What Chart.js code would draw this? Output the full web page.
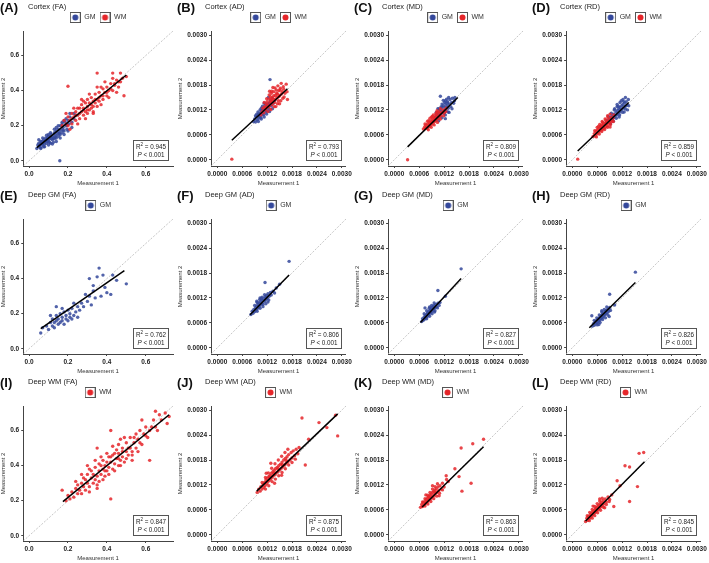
<!DOCTYPE html>
<html>
<head>
<meta charset="utf-8">
<title>Test-retest DTI scatter plots</title>
<script src="https://cdn.jsdelivr.net/npm/chart.js@4.4.1/dist/chart.umd.min.js"></script>
<style>
  html, body { margin: 0; padding: 0; background: #fff; }
  #grid { position: relative; width: 709px; height: 563px; font-family: "Liberation Sans", Arial, sans-serif; }
  .panel { position: absolute; width: 177px; height: 188px; }
  .panel canvas { position: absolute; left: 0; top: 0; }
  .tag { position: absolute; left: 0; top: 0; font-size: 13px; font-weight: bold; color: #111; line-height: 15px; }
  .sub { position: absolute; left: 28px; top: 2px; font-size: 7.5px; color: #222; white-space: nowrap; }
</style>
</head>
<body>
<div id="grid"></div>
<script>
'use strict';

/* ── Panel labels ─────────────────────────────────────────────────────── */
const PANEL_TAGS = ['(A)', '(B)', '(C)', '(D)', '(E)', '(F)', '(G)', '(H)', '(I)', '(J)', '(K)', '(L)'];
const PANEL_TITLES = ['Cortex (FA)', 'Cortex (AD)', 'Cortex (MD)', 'Cortex (RD)',
    'Deep GM (FA)', 'Deep GM (AD)', 'Deep GM (MD)', 'Deep GM (RD)',
    'Deep WM (FA)', 'Deep WM (AD)', 'Deep WM (MD)', 'Deep WM (RD)'];
const R2_VALUES = ['0.945', '0.793', '0.809', '0.859', '0.762', '0.806', '0.827', '0.826', '0.847', '0.875', '0.863', '0.845'];

/* ── Axes (diffusivities kept in units of 1e-4) ───────────────────────── */
const FA_TICKS = [0, 0.2, 0.4, 0.6];
const FA_LIMITS = [-0.03, 0.74];
const DIFF_TICKS = [0, 6, 12, 18, 24, 30];
const DIFF_LIMITS = [-1.5, 31];

/* ── Measurement 1 / Measurement 2 pairs ──────────────────────────────── */
const cortexFA_GM = [[0.04,0.07],[0.045,0.09],[0.05,0.08],[0.05,0.1],[0.055,0.085],[0.06,0.095],[0.06,0.075],[0.065,0.11],[0.07,0.09],[0.07,0.1],[0.075,0.12],[0.08,0.095],[0.08,0.11],[0.085,0.13],[0.09,0.1],[0.09,0.12],[0.095,0.11],[0.1,0.14],[0.1,0.115],[0.105,0.125],[0.11,0.1],[0.11,0.135],[0.115,0.15],[0.12,0.12],[0.12,0.14],[0.125,0.13],[0.13,0.16],[0.13,0.125],[0.135,0.145],[0.14,0.13],[0.14,0.17],[0.145,0.155],[0.15,0.14],[0.15,0.18],[0.155,0.165],[0.16,0.15],[0.16,0.2],[0.165,0.175],[0.17,0.16],[0.17,0.21],[0.175,0.19],[0.18,0.17],[0.185,0.22],[0.19,0.2],[0.195,0.18],[0.2,0.23],[0.205,0.21],[0.21,0.25],[0.22,0.22],[0.23,0.24],[0.24,0.26],[0.06,0.11],[0.075,0.08],[0.095,0.13],[0.125,0.105],[0.158,0.0],[0.14,0.19],[0.18,0.23],
    [0.05,0.12],[0.07,0.13],[0.09,0.145],[0.11,0.16],[0.13,0.18],[0.15,0.2],[0.17,0.22],[0.19,0.24],[0.21,0.27],[0.06,0.07],[0.08,0.08],[0.1,0.09],[0.12,0.095],[0.14,0.11],[0.16,0.13],[0.18,0.15],[0.2,0.17],[0.22,0.19],[0.23,0.27],[0.1,0.15],[0.065,0.1],[0.085,0.115],[0.105,0.105],[0.115,0.125],[0.135,0.135],[0.155,0.155],[0.175,0.175],[0.195,0.205]];
const cortexFA_WM = [[0.17,0.2],[0.18,0.23],[0.19,0.21],[0.2,0.25],[0.2,0.2],[0.21,0.23],[0.22,0.27],[0.22,0.21],[0.23,0.25],[0.24,0.28],[0.24,0.23],[0.25,0.26],[0.26,0.3],[0.26,0.24],[0.27,0.28],[0.27,0.32],[0.28,0.26],[0.28,0.3],[0.29,0.33],[0.29,0.28],[0.3,0.31],[0.3,0.35],[0.31,0.29],[0.31,0.33],[0.32,0.36],[0.32,0.3],[0.33,0.34],[0.33,0.31],[0.34,0.38],[0.34,0.33],[0.35,0.35],[0.35,0.31],[0.36,0.39],[0.36,0.34],[0.37,0.37],[0.38,0.41],[0.38,0.35],[0.39,0.39],[0.4,0.42],[0.4,0.37],[0.41,0.4],[0.42,0.44],[0.43,0.4],[0.44,0.43],[0.45,0.46],[0.46,0.42],[0.47,0.45],[0.48,0.47],[0.5,0.48],[0.2,0.425],[0.35,0.5],[0.488,0.371],[0.3,0.27],[0.25,0.3],[0.37,0.42],[0.43,0.47],[0.28,0.34],[0.33,0.27],
    [0.19,0.27],[0.23,0.3],[0.27,0.35],[0.31,0.38],[0.35,0.42],[0.39,0.45],[0.43,0.5],[0.21,0.18],[0.25,0.21],[0.29,0.24],[0.33,0.28],[0.37,0.32],[0.41,0.36],[0.45,0.39],[0.47,0.5],[0.22,0.24],[0.26,0.27],[0.3,0.29],[0.34,0.35],[0.38,0.37],[0.42,0.41],[0.46,0.45],[0.24,0.26],[0.28,0.29],[0.32,0.32],[0.36,0.36],[0.4,0.39],[0.44,0.44]];
const cortexFA_fit = [[0.04,0.075],[0.5,0.489]];

const cortexAD_GM = [[8.7,9.2],[9,9.8],[9.2,9.1],[9.4,10.3],[9.6,9.6],[9.8,10.6],[10,10],[10,11],[10.2,10.4],[10.4,11.3],[10.5,10.1],[10.7,11.8],[10.8,10.8],[11,11.5],[11,12.3],[11.2,10.9],[11.4,12],[11.5,12.8],[11.7,11.5],[11.8,12.5],[12,13.2],[12,11.8],[12.2,12.8],[12.4,13.6],[12.5,12.2],[12.7,19.3],[12.8,14.2],[13,13],[13.2,14.8],[13.5,13.6],[9.5,11],[10.6,12.4],[11.6,13.5],[12.3,15],[13.8,14.2],
    [9.2,10.6],[9.8,11.5],[10.3,12],[10.9,12.9],[11.3,13.6],[9.9,9.2],[10.6,9.8],[11.3,10.3],[11.9,11],[12.6,11.6],[13.3,12.3],[10.1,10.7],[10.9,11.9],[11.8,12.8],[12.6,13.5]];
const cortexAD_WM = [[10.5,10.8],[10.8,11.6],[11,12.4],[11.2,11.3],[11.4,12.8],[11.6,12],[11.8,13.4],[12,12.5],[12,14],[12.2,13.2],[12.4,14.6],[12.5,12.8],[12.7,13.8],[12.8,15.2],[13,14.2],[13,16],[13.2,13.3],[13.3,15],[13.5,14.5],[13.6,16.4],[13.8,13.8],[14,15.5],[14,14.6],[14.2,16.8],[14.4,15],[14.5,15.8],[14.7,14.2],[14.8,16.6],[15,15.4],[15.2,17.2],[15.4,15.8],[15.6,16.4],[15.8,14.8],[16,17],[16.3,16],[16.6,18.2],[16.9,14.5],[3.5,0.15],[13.4,17.4],[12.6,16.5],[15,13.5],[14.1,12.8],
    [11.3,13.8],[11.9,14.7],[12.5,15.6],[13.1,16.5],[13.9,17.3],[14.6,17.8],[15.4,18.4],[12.2,11.6],[12.9,12.1],[13.7,12.8],[14.5,13.5],[15.3,14.2],[16.1,15.1],[16.8,16.4],[12.9,14.6],[13.6,15.4],[14.3,16],[15.1,16.8],[15.9,17.6],[11.7,12.6],[13.2,13.9],[14.8,15.2]];
const cortexAD_fit = [[3.5,4.7],[16.9,17.1]];

const cortexMD_GM = [[9.6,9.4],[9.8,10.2],[10,9.6],[10.2,10.8],[10.4,10],[10.6,11.2],[10.8,10.4],[11,11.6],[11,10.8],[11.2,12],[11.4,11.2],[11.5,12.6],[11.7,11.5],[11.8,13],[12,12],[12,11.2],[12.2,12.7],[12.4,13.5],[12.5,11.8],[12.7,13],[12.8,14],[13,12.4],[13.2,13.4],[13.4,14.5],[13.6,12.8],[13.8,13.8],[14,14.8],[14.3,13.6],[14.6,15],[11.1,15.3],[12.6,14.6],[10.5,12.3],[13.2,11.4],[11.8,14.3],[12.3,9.9],
    [10.1,11.4],[10.8,12.3],[11.5,13.4],[12.3,14.2],[13.1,15],[10.7,9.4],[11.5,10.1],[12.3,10.8],[13,11.5],[13.9,12.3],[14.5,14.2],[11.3,12.8],[12.1,13.8],[12.9,13.7]];
const cortexMD_WM = [[7,7.4],[7.3,7.9],[7.5,7.5],[7.6,8.3],[7.8,7.8],[8,8.6],[8,7.6],[8.2,8.2],[8.4,9],[8.5,8],[8.6,8.6],[8.8,9.3],[8.9,8.4],[9,9],[9.2,9.7],[9.3,8.8],[9.4,9.4],[9.6,10.1],[9.7,9.2],[9.8,9.8],[10,10.5],[10.1,9.5],[10.3,10.2],[10.5,10.8],[10.6,9.9],[10.8,10.5],[11,11.3],[11.2,10.6],[11.5,11.4],[11.8,12],[12.1,11.3],[12.5,12.4],[9,10.3],[8.3,9.4],[10.2,11.4],[3.2,0],
    [7.4,8.6],[8,9.3],[8.6,10],[9.4,10.8],[10.3,11.8],[11.1,12.3],[8.2,7.2],[8.9,7.8],[9.6,8.4],[10.4,9],[11.1,9.8],[11.9,10.6],[12.4,11.6],[9.2,10.4],[10,11.1],[10.7,11.6]];
const cortexMD_fit = [[3.2,3.1],[15.3,15.0]];

const cortexRD_GM = [[8.2,8.9],[8.5,9.5],[8.8,9],[9,10],[9.3,9.5],[9.5,10.5],[9.7,9.8],[10,11],[10,10.2],[10.3,10.6],[10.5,11.5],[10.7,10.8],[10.9,11.9],[11,11.2],[11.2,12.3],[11.4,11.5],[11.5,12.6],[11.7,11.9],[11.9,13],[12,12.2],[12.2,13.3],[12.4,12.5],[12.6,13.7],[12.8,12.9],[13,14],[13.2,13.2],[13.5,14.5],[12.8,15],[11.8,14.2],[10.8,12.8],[12.5,11.5],[11.3,10.3],[13.3,12],[10.2,12.3],
    [8.7,10.4],[9.4,11.2],[10.1,12],[10.8,13.3],[11.5,13.8],[12.2,14.5],[9.2,8.7],[9.9,9.3],[10.6,10],[11.4,10.8],[12.1,11.4],[12.8,12.2],[13.6,13],[11.1,12.9],[12.4,14]];
const cortexRD_WM = [[5,5.6],[5.3,6.3],[5.5,5.8],[5.7,6.8],[5.9,6.2],[6,7.2],[6.2,6.6],[6.4,7.4],[6.5,6.9],[6.7,7.8],[6.8,7.1],[7,7.6],[7,8.3],[7.2,7.2],[7.4,8],[7.5,8.6],[7.6,7.6],[7.8,8.4],[8,8.9],[8,7.9],[8.2,8.6],[8.4,9.3],[8.5,8.2],[8.7,9],[8.9,9.7],[9,8.8],[9.2,9.4],[9.4,10.2],[9.6,9.2],[9.8,10],[10,10.8],[6.3,8],[7.3,9],[8.6,10.2],[9.1,7.9],[1.3,0.15],
    [5.4,7],[6,7.8],[6.6,8.5],[7.2,9.2],[7.9,9.8],[8.5,10.6],[9.1,11],[5.8,5.5],[6.5,6.2],[7.1,6.8],[7.8,7.3],[8.5,7.8],[9.2,8.5],[9.9,9.2],[6.9,8.1],[8.1,9.5]];
const cortexRD_fit = [[1.3,2.1],[13.6,13.8]];

const deepGmFA = [[0.06,0.09],[0.07,0.12],[0.09,0.13],[0.1,0.11],[0.11,0.15],[0.12,0.13],[0.12,0.17],[0.13,0.15],[0.13,0.12],[0.14,0.16],[0.14,0.19],[0.15,0.14],[0.15,0.17],[0.16,0.15],[0.16,0.2],[0.17,0.16],[0.17,0.18],[0.18,0.14],[0.18,0.21],[0.19,0.17],[0.19,0.19],[0.2,0.16],[0.2,0.22],[0.21,0.18],[0.21,0.2],[0.22,0.17],[0.22,0.23],[0.23,0.19],[0.24,0.21],[0.25,0.24],[0.25,0.18],[0.26,0.22],[0.27,0.26],[0.28,0.24],[0.29,0.31],[0.3,0.27],[0.31,0.3],[0.32,0.25],[0.33,0.33],[0.34,0.29],[0.35,0.41],[0.36,0.46],[0.37,0.3],[0.38,0.42],[0.39,0.35],[0.4,0.32],[0.42,0.31],[0.43,0.42],[0.45,0.39],[0.5,0.37],[0.14,0.24],[0.17,0.23],[0.31,0.4],[0.33,0.36],[0.23,0.26],[0.11,0.19]];
const deepGmFA_fit = [[0.06,0.115],[0.49,0.445]];

const deepGmAD = [[8.1,8],[8.4,8.8],[8.6,8.3],[8.8,9.2],[9,8.7],[9.2,9.6],[9.4,9.1],[9.5,10],[9.7,9.5],[9.8,10.4],[10,9.8],[10,10.8],[10.2,10.2],[10.4,11],[10.5,10.5],[10.6,11.5],[10.8,10.8],[11,11.4],[11,10.4],[11.2,11.8],[11.4,11.2],[11.5,12.3],[11.7,11.6],[11.9,12.6],[12,11.9],[12.2,13],[12.5,12.4],[12.8,13.3],[13,12.7],[13.4,13.6],[13.8,13.2],[11.5,15.7],[9.5,11.2],[10.3,12],[17.3,20.8],[12.2,11],[14.2,14.4],[15,15.3],
    [9,10.2],[9.6,10.9],[10.2,11.6],[10.8,12.2],[11.4,12.8],[9.6,8.8],[10.3,9.5],[11,9.9],[11.7,10.6],[12.4,11.5],[10.6,11.9],[11.9,12.2]];
const deepGmAD_fit = [[7.9,7.95],[17.3,17.5]];

const deepGmMD = [[6.6,6.3],[6.8,7],[7,6.6],[7.2,7.4],[7.3,6.9],[7.5,7.7],[7.6,7.2],[7.8,8],[7.9,7.5],[8,8.4],[8.2,7.9],[8.3,8.7],[8.4,8.2],[8.6,9],[8.7,8.5],[8.8,9.3],[9,8.8],[9,9.6],[9.2,9.1],[9.3,9.9],[9.5,9.4],[9.6,10.2],[9.8,9.7],[10,10.4],[10.2,9.9],[10.5,10.7],[10.8,10.2],[11,10.9],[7.4,9.6],[10.5,13.8],[16.1,19],[8.5,9.8],[9.7,8.6],[12.3,12.4],
    [7.2,8.2],[7.8,8.9],[8.4,9.5],[9,10.2],[9.6,10.8],[7.8,7],[8.5,7.6],[9.1,8.2],[9.8,8.9],[10.4,9.6]];
const deepGmMD_fit = [[6.3,6.1],[16.1,16.7]];

const deepGmRD = [[4.8,5.2],[5.1,5.8],[5.3,5.4],[5.5,6.2],[5.7,5.9],[5.9,6.6],[6,6.1],[6.2,6.9],[6.3,6.4],[6.5,7.2],[6.6,6.7],[6.8,7.5],[6.9,7],[7,7.8],[7.2,7.3],[7.3,8.1],[7.5,7.6],[7.6,8.4],[7.8,7.9],[7.9,8.7],[8.1,8.2],[8.2,9],[8.4,8.5],[8.6,9.3],[8.8,8.8],[9,9.7],[9.2,9],[4.7,7.7],[9,12.9],[15.2,18.2],[8.9,7.5],[6.4,5.6],[7.1,8.9],[10.2,10.3],
    [5.3,6.6],[5.9,7.2],[6.5,7.9],[7.1,8.6],[7.7,9.2],[8.3,9.8],[6,5.5],[6.7,6.1],[7.3,6.8],[8,7.2],[8.6,7.9]];
const deepGmRD_fit = [[4.1,4.8],[15.2,15.7]];

const deepWmFA = [[0.17,0.26],[0.19,0.2],[0.2,0.23],[0.21,0.21],[0.22,0.25],[0.23,0.22],[0.24,0.27],[0.25,0.24],[0.25,0.29],[0.26,0.26],[0.27,0.3],[0.27,0.24],[0.28,0.28],[0.29,0.32],[0.29,0.26],[0.3,0.3],[0.3,0.35],[0.31,0.28],[0.32,0.33],[0.32,0.37],[0.33,0.3],[0.33,0.35],[0.34,0.32],[0.34,0.39],[0.35,0.34],[0.35,0.5],[0.36,0.37],[0.36,0.31],[0.37,0.4],[0.37,0.35],[0.38,0.38],[0.38,0.43],[0.39,0.34],[0.39,0.4],[0.4,0.42],[0.4,0.37],[0.41,0.45],[0.41,0.39],[0.42,0.21],[0.42,0.6],[0.42,0.42],[0.43,0.38],[0.43,0.46],[0.44,0.41],[0.45,0.44],[0.45,0.49],[0.46,0.4],[0.46,0.47],[0.47,0.43],[0.48,0.5],[0.48,0.45],[0.49,0.42],[0.5,0.48],[0.5,0.53],[0.51,0.46],[0.52,0.5],[0.52,0.56],[0.53,0.48],[0.54,0.53],[0.55,0.58],[0.55,0.5],[0.56,0.55],[0.57,0.6],[0.58,0.52],[0.59,0.58],[0.6,0.62],[0.61,0.56],[0.62,0.43],[0.63,0.62],[0.64,0.66],[0.65,0.71],[0.66,0.6],[0.68,0.66],[0.7,0.7],[0.71,0.64],[0.72,0.68],[0.3,0.4],[0.35,0.27],[0.47,0.55],[0.53,0.43],[0.58,0.66],[0.27,0.35],
    [0.24,0.31],[0.28,0.33],[0.31,0.38],[0.34,0.43],[0.37,0.45],[0.4,0.47],[0.43,0.51],[0.46,0.52],[0.49,0.56],[0.31,0.25],[0.35,0.29],[0.38,0.32],[0.41,0.35],[0.44,0.37],[0.47,0.4],[0.5,0.44],[0.53,0.46],[0.56,0.48],[0.36,0.41],[0.39,0.37],[0.42,0.45],[0.44,0.47],[0.46,0.44],[0.48,0.48],[0.51,0.5],[0.54,0.56],[0.57,0.53],[0.6,0.57],[0.62,0.6],[0.65,0.62],[0.67,0.69]];
const deepWmFA_fit = [[0.174,0.195],[0.72,0.69]];

const deepWmAD = [[9.6,10.2],[10,11],[10.3,10.5],[10.5,11.6],[10.8,11],[11,12.2],[11.2,11.4],[11.4,12.6],[11.5,11.8],[11.7,13.2],[11.9,12.3],[12,13.6],[12.2,12.8],[12.4,14],[12.5,13.1],[12.7,14.3],[12.9,13.5],[13,14.8],[13.2,13.9],[13.4,15.2],[13.5,14.2],[13.7,15.5],[13.9,14.5],[14,15.9],[14.2,14.9],[14.4,16.2],[14.6,15.2],[14.8,16.6],[15,15.6],[15.2,17],[15.4,16],[15.6,17.5],[15.8,16.4],[16,18],[16.2,16.8],[16.4,18.4],[16.6,17.2],[16.8,18.8],[17,17.6],[17.2,19.3],[17.5,18],[17.8,19.8],[18,18.5],[18.3,20.2],[18.6,19],[19,20.6],[19.4,19.5],[19.7,21],[12.9,17.2],[21.2,16.8],[20.4,28.1],[24.5,27],[26.4,25.8],[29,23.8],[28.5,28.8],[22,23],[13.8,12.4],[11.8,14.8],[15.5,14.3],
    [10.8,12.6],[11.6,13.8],[12.3,14.9],[13.1,16],[13.9,17.1],[14.7,18],[15.5,18.9],[16.3,19.8],[17,20.6],[11.6,11],[12.4,11.8],[13.2,12.8],[14,13.4],[14.8,14.2],[15.6,15],[16.4,15.9],[17.2,16.8],[18,17.4],[18.8,18.2],[12.6,13.8],[13.6,14.8],[14.6,15.9],[15.6,16.9],[16.6,17.9]];
const deepWmAD_fit = [[9.5,10.5],[29,29.1]];

const deepWmMD = [[6.3,6.6],[6.6,7.3],[6.8,6.8],[7,7.8],[7.2,7.2],[7.4,8.1],[7.5,7.5],[7.7,8.5],[7.8,7.8],[8,8.8],[8.1,8.1],[8.3,9.2],[8.4,8.4],[8.6,9.5],[8.7,8.7],[8.9,9.8],[9,9],[9.2,10.2],[9.3,9.3],[9.5,10.5],[9.6,9.6],[9.8,10.8],[10,10],[10.1,11.1],[10.3,10.3],[10.5,11.5],[10.7,10.6],[11,11.8],[11.3,11],[11.6,12.4],[12,11.5],[12.6,13.3],[7.6,9.6],[9.2,11.8],[10.8,9.4],[13,12.8],[14.6,15.9],[15.6,14],[16.1,20.9],[18.9,21.9],[21.5,23],[18.5,12.4],[16.3,10.5],[12.5,14.2],
    [6.8,7.9],[7.4,8.7],[8,9.5],[8.6,10.2],[9.2,11],[9.8,11.6],[10.4,12.3],[7.4,6.9],[8.1,7.4],[8.8,8],[9.5,8.7],[10.2,9.3],[10.9,10],[11.6,10.8],[8.3,9.1],[9.7,10.3]];
const deepWmMD_fit = [[6.7,6.7],[21.5,21.2]];

const deepWmRD = [[3.2,3.2],[3.5,4],[3.7,3.5],[3.9,4.4],[4.1,3.9],[4.3,4.8],[4.4,4.2],[4.6,5.2],[4.7,4.6],[4.9,5.5],[5,4.9],[5.2,5.8],[5.3,5.2],[5.5,6.1],[5.6,5.5],[5.8,6.5],[5.9,5.8],[6.1,6.8],[6.2,6.1],[6.4,7.1],[6.5,6.4],[6.7,7.4],[6.8,6.7],[7,7.8],[7.2,7],[7.4,8.2],[7.6,7.4],[7.9,8.6],[8.2,7.9],[8.6,9.1],[9,8.5],[9.5,9.6],[10,6.8],[5,6.9],[6.6,8.6],[7.8,6.5],[10.8,13],[12.7,16.6],[13.8,16.3],[16.1,19.6],[17.2,19.8],[15.7,11.6],[13.8,8],[11.5,11.8],
    [3.6,4.6],[4.2,5.4],[4.8,6.1],[5.4,6.8],[6,7.5],[6.6,8.1],[7.2,8.8],[4.1,3.4],[4.8,4],[5.4,4.6],[6.1,5.3],[6.8,5.9],[7.5,6.6],[8.2,7.3],[8.9,8],[5.7,6.3],[7,7.3]];
const deepWmRD_fit = [[3.2,3.3],[17.4,17.6]];

/* ── Styling ──────────────────────────────────────────────────────────── */
const GM_SOLID = '#34489b';
const WM_SOLID = '#e5262a';
const GM_FILL = 'rgba(52,72,155,0.85)';
const WM_FILL = 'rgba(229,38,42,0.85)';

const PANELS = [
    { kind: 'fa', gm: cortexFA_GM, wm: cortexFA_WM, fit: cortexFA_fit },
    { kind: 'diff', gm: cortexAD_GM, wm: cortexAD_WM, fit: cortexAD_fit },
    { kind: 'diff', gm: cortexMD_GM, wm: cortexMD_WM, fit: cortexMD_fit },
    { kind: 'diff', gm: cortexRD_GM, wm: cortexRD_WM, fit: cortexRD_fit },
    { kind: 'fa', gm: deepGmFA, fit: deepGmFA_fit },
    { kind: 'diff', gm: deepGmAD, fit: deepGmAD_fit },
    { kind: 'diff', gm: deepGmMD, fit: deepGmMD_fit },
    { kind: 'diff', gm: deepGmRD, fit: deepGmRD_fit },
    { kind: 'fa', wm: deepWmFA, fit: deepWmFA_fit },
    { kind: 'diff', wm: deepWmAD, fit: deepWmAD_fit },
    { kind: 'diff', wm: deepWmMD, fit: deepWmMD_fit },
    { kind: 'diff', wm: deepWmRD, fit: deepWmRD_fit },
];

const PANEL_W = 177, PANEL_H = 188;
const COL_X = [0, 177, 354, 532];
const ROW_Y = [0, 188, 375];

/* Boxed-dot legend key, like ggplot's */
function legendIcon(color) {
    const c = document.createElement('canvas');
    c.width = 11; c.height = 11;
    const g = c.getContext('2d');
    g.fillStyle = '#fff';
    g.fillRect(0, 0, 11, 11);
    g.strokeStyle = '#555';
    g.lineWidth = 1;
    g.strokeRect(0.5, 0.5, 10, 10);
    g.fillStyle = color;
    g.beginPath();
    g.arc(5.5, 5.5, 3, 0, Math.PI * 2);
    g.fill();
    return c;
}
const ICONS = { GM: legendIcon(GM_SOLID), WM: legendIcon(WM_SOLID) };

/* R² / P annotation box in the lower-right corner */
const statBox = {
    id: 'statBox',
    afterDatasetsDraw(chart, args, opts) {
        const { ctx, chartArea: a } = chart;
        const w = 35, h = 20;
        const x = Math.round(a.right - 5 - w), y = Math.round(a.bottom - 6 - h);
        ctx.save();
        ctx.fillStyle = '#fff';
        ctx.fillRect(x, y, w, h);
        ctx.strokeStyle = '#555';
        ctx.lineWidth = 1;
        ctx.strokeRect(x + 0.5, y + 0.5, w, h);
        ctx.fillStyle = '#222';
        ctx.textBaseline = 'alphabetic';

        const base = '6.3px "Liberation Sans", Arial, sans-serif';
        const sup = '4.5px "Liberation Sans", Arial, sans-serif';
        ctx.font = base;
        const wR = ctx.measureText('R').width;
        const rest = ' = ' + opts.r2;
        const wRest = ctx.measureText(rest).width;
        ctx.font = sup;
        const wSup = ctx.measureText('2').width;
        let tx = x + (w - (wR + wSup + wRest)) / 2 + 0.5;
        ctx.font = base;
        ctx.fillText('R', tx, y + 8.5);
        ctx.font = sup;
        ctx.fillText('2', tx + wR, y + 6);
        ctx.font = base;
        ctx.fillText(rest, tx + wR + wSup, y + 8.5);

        const pItalic = 'italic ' + base;
        ctx.font = pItalic;
        const wP = ctx.measureText('P').width;
        ctx.font = base;
        const tail = ' < 0.001';
        const wTail = ctx.measureText(tail).width;
        tx = x + (w - (wP + wTail)) / 2 + 0.5;
        ctx.font = pItalic;
        ctx.fillText('P', tx, y + 16.5);
        ctx.font = base;
        ctx.fillText(tail, tx + wP, y + 16.5);
        ctx.restore();
    },
};

function axis(lim, ticks, fmt, title) {
    return {
        type: 'linear',
        min: lim[0],
        max: lim[1],
        afterBuildTicks: s => { s.ticks = ticks.map(v => ({ value: v })); },
        ticks: {
            callback: v => fmt(v),
            font: { size: 6.5, weight: 'bold', family: '"Liberation Sans", Arial, sans-serif' },
            color: '#222',
            padding: 2,
            maxRotation: 0,
            autoSkip: false,
        },
        grid: { display: true, drawOnChartArea: false, drawTicks: true, tickLength: 2, color: '#444' },
        border: { display: true, color: '#444', width: 1 },
        title: {
            display: true,
            text: title,
            font: { size: 6, family: '"Liberation Sans", Arial, sans-serif' },
            color: '#333',
            padding: { top: 0, bottom: 1 },
        },
    };
}

function buildPanel(p, i) {
    const holder = document.createElement('div');
    holder.className = 'panel';
    holder.style.left = COL_X[i % 4] + 'px';
    holder.style.top = ROW_Y[Math.floor(i / 4)] + 'px';
    const canvas = document.createElement('canvas');
    canvas.width = PANEL_W;
    canvas.height = PANEL_H;
    holder.appendChild(canvas);
    const tag = document.createElement('div');
    tag.className = 'tag';
    tag.textContent = PANEL_TAGS[i];
    holder.appendChild(tag);
    const sub = document.createElement('div');
    sub.className = 'sub';
    sub.textContent = PANEL_TITLES[i];
    holder.appendChild(sub);
    document.getElementById('grid').appendChild(holder);

    const isFA = p.kind === 'fa';
    const lim = isFA ? FA_LIMITS : DIFF_LIMITS;
    const ticks = isFA ? FA_TICKS : DIFF_TICKS;
    const fmt = isFA ? (v => v.toFixed(1)) : (v => (v / 1e4).toFixed(4));
    const toPts = arr => arr.map(([x, y]) => ({ x, y }));

    const datasets = [];
    if (p.gm) datasets.push({ label: 'GM', data: toPts(p.gm), backgroundColor: GM_FILL, pointRadius: 1.7, borderWidth: 0, order: 2 });
    if (p.wm) datasets.push({ label: 'WM', data: toPts(p.wm), backgroundColor: WM_FILL, pointRadius: 1.7, borderWidth: 0, order: 1 });
    datasets.push({ label: 'fit', data: toPts(p.fit), showLine: true, borderColor: '#000', borderWidth: 1.5, pointRadius: 0, order: 0 });
    datasets.push({
        label: 'identity',
        data: [{ x: lim[0], y: lim[0] }, { x: lim[1], y: lim[1] }],
        showLine: true, borderColor: '#b8b8b8', borderWidth: 0.8, borderDash: [2, 1.5], pointRadius: 0, order: 3,
    });

    new Chart(canvas.getContext('2d'), {
        type: 'scatter',
        data: { datasets },
        options: {
            responsive: false,
            animation: false,
            layout: { padding: { top: 10, right: 2, left: 0, bottom: 0 } },
            plugins: {
                tooltip: { enabled: false },
                legend: {
                    display: true,
                    position: 'top',
                    fullSize: false,
                    labels: {
                        usePointStyle: true,
                        pointStyleWidth: 11,
                        boxHeight: 7,
                        padding: 4,
                        color: '#333',
                        font: { size: 7, family: '"Liberation Sans", Arial, sans-serif' },
                        generateLabels: chart => Chart.defaults.plugins.legend.labels.generateLabels(chart)
                            .filter(l => l.text === 'GM' || l.text === 'WM')
                            .sort((a, b) => a.datasetIndex - b.datasetIndex)
                            .map(l => Object.assign(l, { pointStyle: ICONS[l.text], fontColor: '#333' })),
                    },
                },
                statBox: { r2: R2_VALUES[i] },
            },
            scales: {
                x: axis(lim, ticks, fmt, 'Measurement 1'),
                y: axis(lim, ticks, fmt, 'Measurement 2'),
            },
        },
        plugins: [statBox],
    });
}

PANELS.forEach(buildPanel);
</script>
</body>
</html>
